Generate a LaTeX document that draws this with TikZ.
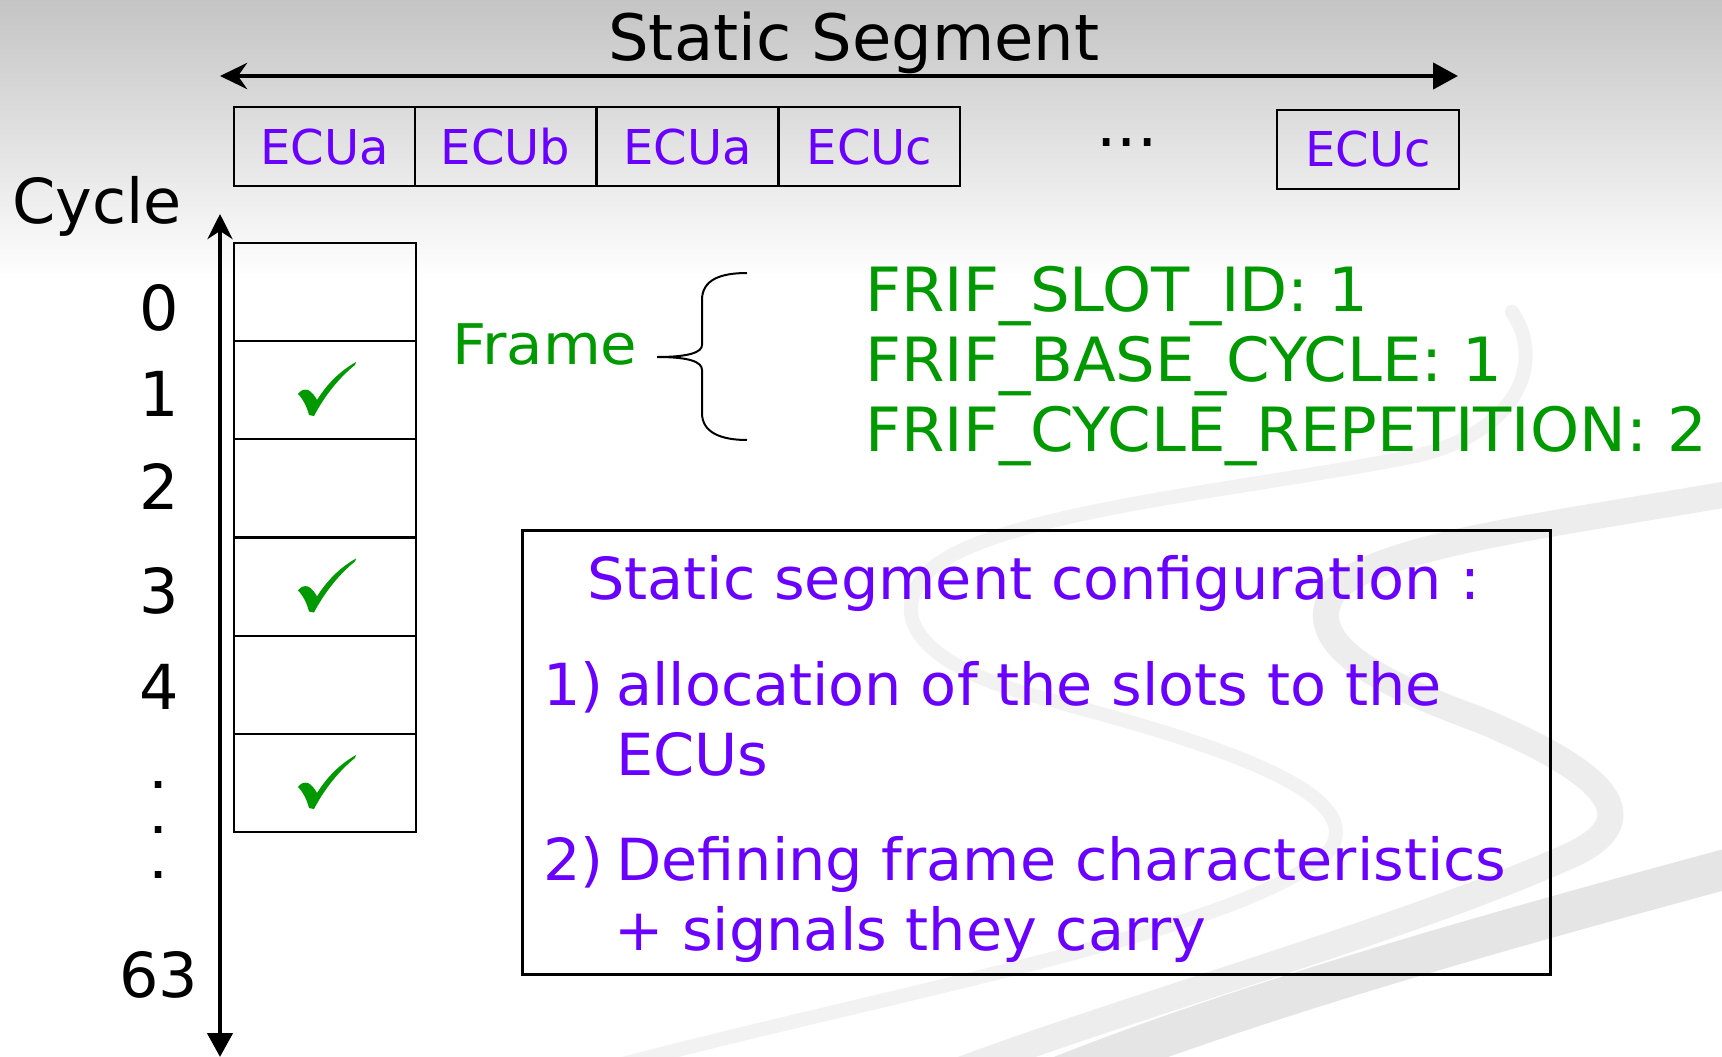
\documentclass[tikz,border=0pt]{standalone}
\usepackage{fontspec}
\setmainfont{DejaVu Sans}
\usetikzlibrary{arrows.meta}
\definecolor{ecupurple}{RGB}{106,0,255}
\definecolor{frgreen}{RGB}{0,153,0}
\begin{document}
\begin{tikzpicture}[x=1pt,y=-1pt,
  fs/.style={font=\fontsize{#1}{#1}\selectfont},
  lbl/.style={inner sep=0pt, anchor=base},
  lblw/.style={inner sep=0pt, anchor=base west},
  ecubox/.style={draw=black, line width=2pt, minimum width=181.5pt, minimum height=79pt,
    inner sep=0pt, text=ecupurple, fs=48, text height=35pt, text depth=0pt},
  cyclebox/.style={draw=black, line width=2pt, minimum width=182pt, minimum height=98pt, inner sep=0pt},
  vdot/.style={inner sep=0pt, anchor=base, font=\fontsize{37}{37}\selectfont\bfseries},
  axis/.style={line width=4.5pt},
  band/.style={line cap=round, draw=black!#1},
  chk/.pic={\fill[frgreen] (-27,4) .. controls (-24,0) and (-21,-1) .. (-17,0)
      .. controls (-13,2) and (-10,6) .. (-8,10)
      .. controls (2,-6) and (15,-19) .. (31,-28)
      -- (30,-25)
      .. controls (15,-13) and (0,5) .. (-11,26)
      -- (-16,25)
      .. controls (-18,17) and (-22,9) .. cycle;}
]
\useasboundingbox (0,0) rectangle (1722,1057);
% background
\fill[white] (0,0) rectangle (1722,1057);
\shade[top color=black!23, bottom color=white] (0,0) rectangle (1722,280);
\begin{scope}
\clip (0,0) rectangle (1722,1057);
\draw[band=5, line width=14pt] (1512,312) .. controls (1545,360) and (1520,430) .. (1420,455)
   .. controls (1250,490) and (1000,510) .. (930,570)
   .. controls (880,620) and (930,670) .. (1050,700)
   .. controls (1200,740) and (1370,790) .. (1330,850)
   .. controls (1250,930) and (900,990) .. (600,1070);
\draw[band=7, line width=26pt] (1740,492) .. controls (1550,525) and (1380,545) .. (1335,590)
   .. controls (1300,640) and (1370,680) .. (1480,720)
   .. controls (1600,770) and (1660,820) .. (1560,860)
   .. controls (1400,930) and (1150,1000) .. (960,1070);
\draw[band=10, line width=40pt] (1760,860) .. controls (1500,930) and (1250,1000) .. (1050,1080);
\end{scope}
% title and horizontal arrow
\node[lbl, fs=64] (title) at (854,60) {Static Segment};
\coordinate (hl) at (220,76);
\coordinate (hr) at (1458,76);
\draw[axis, {Stealth[length=27pt,width=26pt,inset=9pt]}-{Triangle[length=25pt,width=26pt]}] (hl) -- (hr);
% ECU slots
\node[ecubox] (s1) at (324.5,146.5) {ECUa};
\node[ecubox] (s2) at (505.5,146.5) {ECUb};
\node[ecubox] (s3) at (687.5,146.5) {ECUa};
\node[ecubox] (s4) at (869.5,146.5) {ECUc};
\node[ecubox] (s5) at (1368,149) {ECUc};
\node[lbl, fs=64] (dots) at (1127,146) {...};
% cycle axis
\node[lbl, fs=62] (cyc) at (97,223) {Cycle};
\coordinate (ytop) at (220,214);
\coordinate (ybot) at (220,1057);
\draw[axis, {Stealth[length=25pt,width=25pt,inset=8pt]}-{Triangle[length=24pt,width=25pt]}] (ytop) -- (ybot);
\node[cyclebox] (c0) at (325,292) {};
\node[cyclebox] (c1) at (325,390) {};
\node[cyclebox] (c2) at (325,488) {};
\node[cyclebox] (c3) at (325,586.5) {};
\node[cyclebox] (c4) at (325,685) {};
\node[cyclebox] (c5) at (325,783) {};
\pic at (c1.center) {chk};
\pic at (c3.center) {chk};
\pic at (c5.center) {chk};
\node[lbl, fs=62] (n0) at (159,330) {0};
\node[lbl, fs=62] (n1) at (159,416) {1};
\node[lbl, fs=62] (n2) at (159,509) {2};
\node[lbl, fs=62] (n3) at (159,613) {3};
\node[lbl, fs=62] (n4) at (159,709) {4};
\node[vdot] (v1) at (158.5,788) {.};
\node[vdot] (v2) at (158.5,833) {.};
\node[vdot] (v3) at (158.5,878) {.};
\node[lbl, fs=62] (n63) at (159,997) {63};
% frame
\node[lbl, fs=56, xscale=1.06, text=frgreen] (frame) at (545,364) {Frame};
\draw[line width=2pt] (747,273) .. controls (720,273) and (702,280) .. (702,300)
   -- (702,345) .. controls (702,352) and (690,357) .. (657,357)
   .. controls (690,357) and (702,362) .. (702,370)
   -- (702,413) .. controls (702,432) and (720,440) .. (747,440);
\node[lblw, fs=61, xscale=1.025, text=frgreen] (p1) at (865,311) {FRIF\_SLOT\_ID: 1};
\node[lblw, fs=61, xscale=1.025, text=frgreen] (p2) at (865,381) {FRIF\_BASE\_CYCLE: 1};
\node[lblw, fs=61, xscale=1.025, text=frgreen] (p3) at (865,451) {FRIF\_CYCLE\_REPETITION: 2};
% configuration box
\node[draw=black, line width=3pt, minimum width=1028pt, minimum height=444pt, inner sep=0pt] (cfg) at (1036,752) {};
\node[lblw, fs=58, xscale=1.015, text=ecupurple] (t0) at (587,599) {Static segment configuration :};
\node[lblw, fs=58, xscale=1.015, text=ecupurple] (i1) at (543,705) {1)};
\node[lblw, fs=58, xscale=1.015, text=ecupurple] (t1) at (616,705) {allocation of the slots to the};
\node[lblw, fs=58, xscale=1.015, text=ecupurple] (t2) at (616,775) {ECUs};
\node[lblw, fs=58, xscale=1.015, text=ecupurple] (i2) at (543,880) {2)};
\node[lblw, fs=58, xscale=1.015, text=ecupurple] (t3) at (616,880) {Defining frame characteristics};
\node[lblw, fs=58, xscale=1.015, text=ecupurple] (t4) at (614,950) {+ signals they carry};
\end{tikzpicture}
\end{document}
